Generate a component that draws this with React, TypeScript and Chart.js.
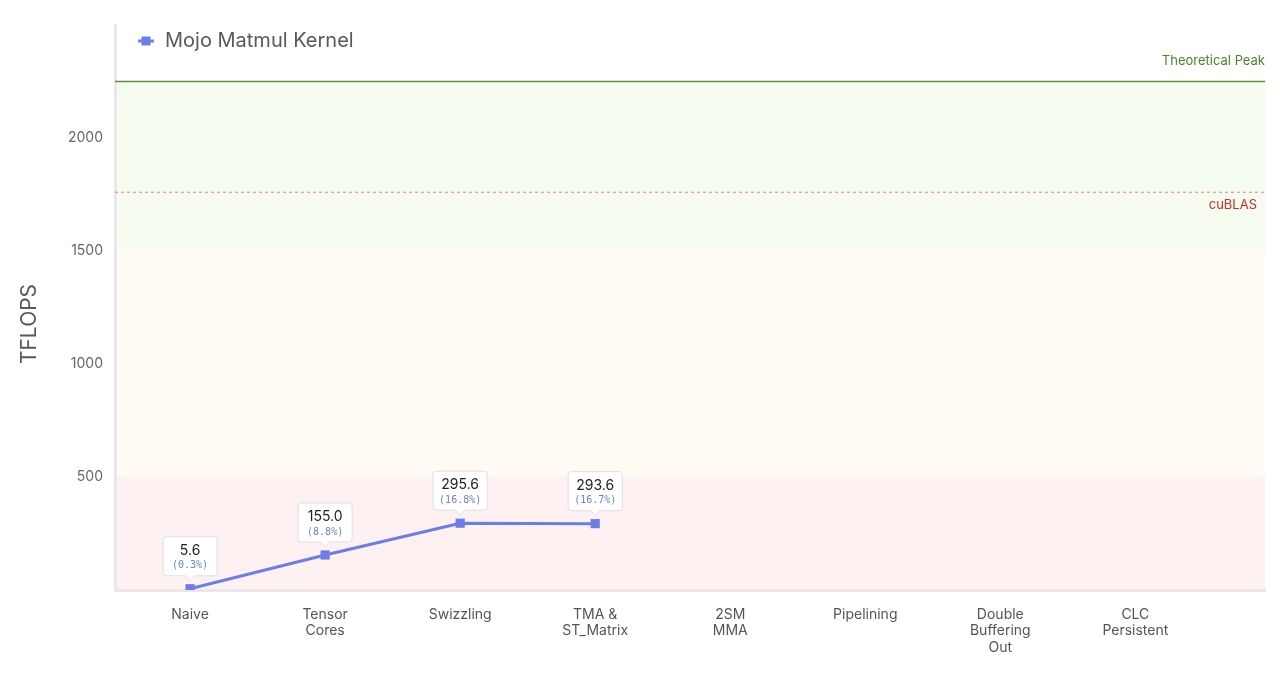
import { useEffect, useRef } from "react";
import Chart from "chart.js/auto";

// kernel steps (multi-line tick labels)
const categories = [
  ["Naive"],
  ["Tensor", "Cores"],
  ["Swizzling"],
  ["TMA &", "ST_Matrix"],
  ["2SM", "MMA"],
  ["Pipelining"],
  ["Double", "Buffering", "Out"],
  ["CLC", "Persistent"],
];
const tflops: (number | null)[] = [5.6, 155.0, 295.6, 293.6, null, null, null, null];
const yTicks = [500, 1000, 1500, 2000];
const cublasTflops = 1760;
const theoreticalPeak = 2250;
const bandLimits = [0, 500, 1500, 2250];

const FONT = "Inter, 'Noto Sans', sans-serif";
const LINE = "#6c7ce8";

const App = () => {
  const chartRef = useRef<HTMLCanvasElement>(null);
  const chartInstanceRef = useRef<Chart>();

  useEffect(() => {
    if (!chartRef.current) return;
    const ctx = chartRef.current.getContext("2d");

    // background zones + reference lines
    const zonesPlugin = {
      id: "zones",
      beforeDraw(chart: any) {
        const { ctx, chartArea: a, scales } = chart;
        const y = scales.y;
        const colors = ["#fdf1f2", "#fffbf4", "#f6fcf0"];
        ctx.save();
        for (let i = 0; i < bandLimits.length - 1; i++) {
          const top = y.getPixelForValue(bandLimits[i + 1]);
          const bottom = y.getPixelForValue(bandLimits[i]);
          ctx.fillStyle = colors[i];
          ctx.fillRect(a.left, top, a.right - a.left, bottom - top);
        }
        ctx.restore();
      },
      beforeDatasetsDraw(chart: any) {
        const { ctx, chartArea: a, scales } = chart;
        const y = scales.y;
        ctx.save();
        // theoretical peak
        const py = y.getPixelForValue(theoreticalPeak);
        ctx.strokeStyle = "#5f9030";
        ctx.lineWidth = 1.5;
        ctx.beginPath();
        ctx.moveTo(a.left, py);
        ctx.lineTo(a.right, py);
        ctx.stroke();
        ctx.font = `13px ${FONT}`;
        ctx.fillStyle = "#4f7f2c";
        ctx.textAlign = "right";
        ctx.textBaseline = "middle";
        ctx.fillText("Theoretical Peak", a.right, py - 20);
        // cuBLAS
        const cy = y.getPixelForValue(cublasTflops);
        ctx.strokeStyle = "#e0887e";
        ctx.lineWidth = 1;
        ctx.setLineDash([3, 3]);
        ctx.beginPath();
        ctx.moveTo(a.left, cy);
        ctx.lineTo(a.right, cy);
        ctx.stroke();
        ctx.setLineDash([]);
        ctx.fillStyle = "#c92f2b";
        ctx.fillText("cuBLAS", a.right - 8, cy + 13);
        ctx.restore();
      },
    };

    // value boxes above points
    const labelsPlugin = {
      id: "valueBoxes",
      afterDatasetsDraw(chart: any) {
        const { ctx } = chart;
        const meta = chart.getDatasetMeta(0);
        ctx.save();
        meta.data.forEach((pt: any, i: number) => {
          const v = tflops[i];
          if (v == null) return;
          const val = v.toFixed(1);
          const pct = `(${((v / cublasTflops) * 100).toFixed(1)}%)`;
          ctx.font = `14px ${FONT}`;
          const w1 = ctx.measureText(val).width;
          ctx.font = `10px 'DejaVu Sans Mono', monospace`;
          const w2 = ctx.measureText(pct).width;
          const w = Math.max(54, Math.max(w1, w2) + 12);
          const h = 39;
          const bottom = pt.y - 13;
          const top = bottom - h;
          const left = pt.x - w / 2;
          ctx.beginPath();
          ctx.roundRect(left, top, w, h, 3);
          ctx.fillStyle = "#ffffff";
          ctx.fill();
          ctx.strokeStyle = "#e3dde3";
          ctx.lineWidth = 1;
          ctx.stroke();
          // pointer
          ctx.beginPath();
          ctx.moveTo(pt.x - 5, bottom - 0.5);
          ctx.lineTo(pt.x, bottom + 5);
          ctx.lineTo(pt.x + 5, bottom - 0.5);
          ctx.fillStyle = "#ffffff";
          ctx.fill();
          ctx.stroke();
          ctx.fillRect(pt.x - 4.5, bottom - 1.5, 9, 1.5);
          ctx.textAlign = "center";
          ctx.textBaseline = "middle";
          ctx.font = `14px ${FONT}`;
          ctx.fillStyle = "#1f1f1f";
          ctx.fillText(val, pt.x, top + 14);
          ctx.font = `10px 'DejaVu Sans Mono', monospace`;
          ctx.fillStyle = "#6f82cc";
          ctx.fillText(pct, pt.x, top + 29);
        });
        ctx.restore();
      },
    };

    // legend inside the plot and rotated y title
    const decorPlugin = {
      id: "decor",
      afterDraw(chart: any) {
        const { ctx, chartArea: a } = chart;
        ctx.save();
        ctx.strokeStyle = LINE;
        ctx.lineWidth = 3;
        ctx.beginPath();
        ctx.moveTo(a.left + 23, 41);
        ctx.lineTo(a.left + 39, 41);
        ctx.stroke();
        ctx.fillStyle = LINE;
        ctx.fillRect(a.left + 26.5, 36.5, 9, 9);
        ctx.font = `20px ${FONT}`;
        ctx.fillStyle = "#595959";
        ctx.textAlign = "left";
        ctx.textBaseline = "middle";
        ctx.fillText(chart.data.datasets[0].label, a.left + 50, 41);

        ctx.translate(30, 324);
        ctx.rotate(-Math.PI / 2);
        ctx.textAlign = "center";
        ctx.font = `21px ${FONT}`;
        ctx.fillStyle = "#595959";
        ctx.fillText("TFLOPS", 0, 0);
        ctx.restore();
      },
    };

    if (chartInstanceRef.current) {
      chartInstanceRef.current.destroy();
    }

    chartInstanceRef.current = new Chart(ctx!, {
      type: "line",
      data: {
        datasets: [
          {
            label: "Mojo Matmul Kernel",
            data: tflops.map((v, i) => ({ x: i, y: v })) as any,
            borderColor: LINE,
            backgroundColor: LINE,
            borderWidth: 3,
            pointStyle: "rect",
            pointRadius: 6.5,
            pointBorderWidth: 0,
            spanGaps: false,
          },
        ],
      },
      options: {
        animation: false,
        responsive: false,
        events: [],
        layout: { padding: { top: 25, right: 15, left: 0, bottom: 0 } },
        plugins: {
          legend: { display: false },
          tooltip: { enabled: false },
        },
        scales: {
          x: {
            type: "linear",
            min: -0.556,
            max: 7.96,
            grid: { display: false, drawTicks: false },
            border: { display: true, color: "#ebe6ea", width: 3 },
            afterBuildTicks: (s: any) => {
              s.ticks = categories.map((_, i) => ({ value: i }));
            },
            afterFit: (s: any) => {
              s.height = 93;
            },
            ticks: {
              padding: 16,
              maxRotation: 0,
              autoSkip: false,
              color: "#555555",
              font: { family: FONT, size: 14, lineHeight: 1.2 },
              callback: (v: any) => categories[v as number] ?? "",
            },
          },
          y: {
            min: 0,
            max: 2500,
            grid: { display: false, drawTicks: false },
            border: { display: true, color: "#ebe6ea", width: 3 },
            afterBuildTicks: (s: any) => {
              s.ticks = yTicks.map((v) => ({ value: v }));
            },
            afterFit: (s: any) => {
              s.width = 115;
            },
            ticks: {
              padding: 12,
              color: "#666666",
              font: { family: FONT, size: 14 },
              callback: (v: any) => String(v),
            },
          },
        },
      },
      plugins: [zonesPlugin, labelsPlugin, decorPlugin],
    });

    return () => {
      if (chartInstanceRef.current) {
        chartInstanceRef.current.destroy();
      }
    };
  }, []);

  return (
    <div style={{ position: "fixed", left: 0, top: 0, width: 1280, height: 683, background: "#ffffff" }}>
      <canvas ref={chartRef} width={1280} height={683}></canvas>
    </div>
  );
};

export default App;
